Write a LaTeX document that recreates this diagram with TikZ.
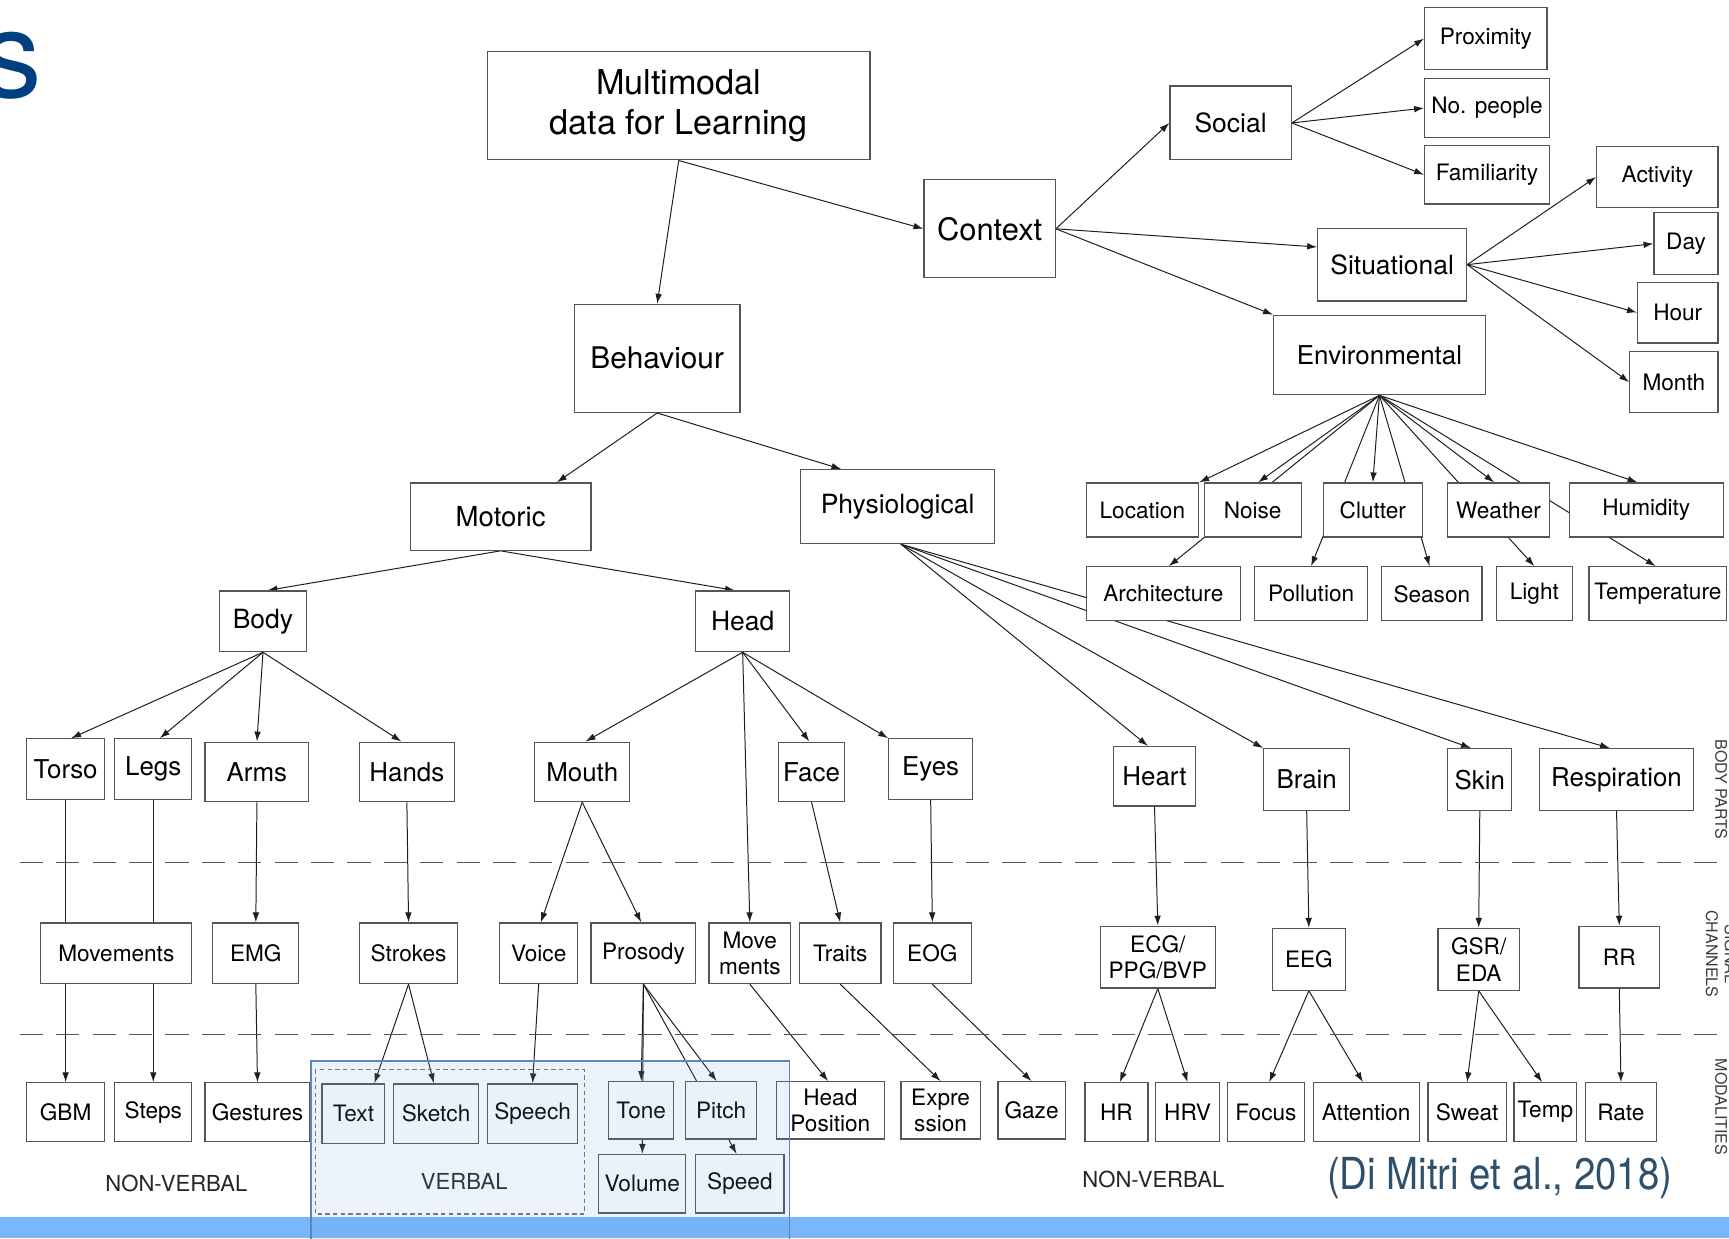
\documentclass[tikz,border=0pt]{standalone}
\usepackage{fontspec}
\setmainfont{TeX Gyre Heros}
\newfontfamily\citefont[FakeStretch=0.87]{TeX Gyre Heros}
\usetikzlibrary{arrows.meta}
\pgfdeclarelayer{edges}
\pgfdeclarelayer{over}
\pgfsetlayers{edges,main,over}
\definecolor{boxline}{RGB}{85,85,85}
\definecolor{edgecol}{RGB}{30,30,30}
\definecolor{titleblue}{RGB}{0,64,128}
\definecolor{citecol}{RGB}{47,80,107}
\definecolor{barblue}{RGB}{121,183,250}
\definecolor{panelfill}{RGB}{110,160,230}
\definecolor{panelline}{RGB}{90,135,195}
\definecolor{sidegrey}{RGB}{60,60,60}

\tikzset{
  bx/.style={draw=boxline, fill=white, line width=1.1pt, inner sep=0pt, align=center, text=black},
  f31/.style={font=\fontsize{31}{37}\selectfont},
  f28/.style={font=\fontsize{28}{33}\selectfont},
  f27/.style={font=\fontsize{27}{32}\selectfont},
  f25/.style={font=\fontsize{25}{30}\selectfont},
  f24/.style={font=\fontsize{24}{28}\selectfont},
  f23/.style={font=\fontsize{23.5}{28}\selectfont},
  f20/.style={font=\fontsize{20.5}{24}\selectfont},
  arr/.style={draw=edgecol, line width=0.9pt, -{Latex[length=9pt,width=6pt]}},
  sep/.style={draw=boxline, line width=1.4pt, dash pattern=on 21pt off 12pt},
  lbl/.style={font=\fontsize{20}{24}\selectfont, text=black!85, inner sep=0pt},
  side/.style={font=\fontsize{14.5}{17}\selectfont, text=sidegrey, inner sep=0pt, align=center, rotate=-90},
}

% box from its two corners: name, x1, y1, x2, y2, font style, text
\newcommand\mkbox[7]{%
  \node[bx,#6,minimum width={(#4)-(#2)},minimum height={(#5)-(#3)}] (#1)
    at ({((#2)+(#4))/2},{((#3)+(#5))/2}) {#7};}

\begin{document}
\begin{tikzpicture}[x=1pt,y=-1pt]
\useasboundingbox (0,0) rectangle (1568,1123);

% slide title remnant
\node[anchor=base east, inner sep=0pt, text=titleblue,
      font=\fontsize{110}{110}\selectfont] (ttl) at (38,88) {s};

% ---- top levels
\mkbox{mm}{442}{47}{789}{145}{f31}{Multimodal\\data for Learning}
\mkbox{ctx}{838}{163}{957}{252}{f28}{Context}
\mkbox{soc}{1061}{78}{1171}{145}{f24}{Social}
\mkbox{prox}{1292}{7}{1403}{63}{f20}{Proximity}
\mkbox{nop}{1292}{71}{1405}{125}{f20}{No. people}
\mkbox{fam}{1292}{132}{1405}{185}{f20}{Familiarity}
\mkbox{sit}{1195}{207}{1330}{273}{f24}{Situational}
\mkbox{act}{1448}{133}{1558}{188}{f20}{Activity}
\mkbox{day}{1500}{193}{1558}{249}{f20}{Day}
\mkbox{hour}{1485}{256}{1558}{311}{f20}{Hour}
\mkbox{month}{1478}{319}{1558}{374}{f20}{Month}
\mkbox{env}{1155}{286}{1347}{358}{f23}{Environmental}
\mkbox{beh}{521}{276}{671}{374}{f27}{Behaviour}
\mkbox{mot}{372}{438}{536}{499}{f25}{Motoric}
\mkbox{phys}{726}{426}{902}{493}{f24}{Physiological}

% ---- environmental factors
\mkbox{loc}{985}{438}{1087}{487}{f20}{Location}
\mkbox{noise}{1092}{438}{1180}{487}{f20}{Noise}
\mkbox{clut}{1200}{438}{1290}{487}{f20}{Clutter}
\mkbox{weat}{1313}{438}{1405}{487}{f20}{Weather}
\mkbox{humid}{1423}{438}{1563}{487}{f20}{Humidity}
\mkbox{arch}{985}{514}{1125}{563}{f20}{Architecture}
\mkbox{poll}{1138}{514}{1240}{563}{f20}{Pollution}
\mkbox{seas}{1253}{514}{1344}{563}{f20}{Season}
\mkbox{light}{1357}{514}{1426}{563}{f20}{Light}
\mkbox{temp}{1441}{514}{1566}{563}{f20}{Temperature}

% ---- body parts
\mkbox{body}{199}{536}{278}{591}{f24}{Body}
\mkbox{head}{631}{536}{716}{591}{f24}{Head}
\mkbox{torso}{24}{670}{95}{725}{f23}{Torso}
\mkbox{legs}{104}{670}{174}{725}{f23}{Legs}
\mkbox{arms}{186}{673}{280}{727}{f23}{Arms}
\mkbox{hands}{326}{673}{412}{727}{f23}{Hands}
\mkbox{mouth}{485}{673}{571}{727}{f23}{Mouth}
\mkbox{face}{706}{673}{766}{727}{f23}{Face}
\mkbox{eyes}{806}{670}{882}{725}{f23}{Eyes}
\mkbox{heart}{1010}{677}{1084}{731}{f23}{Heart}
\mkbox{brain}{1146}{679}{1224}{735}{f23}{Brain}
\mkbox{skin}{1313}{679}{1371}{735}{f23}{Skin}
\mkbox{resp}{1396}{679}{1536}{735}{f23}{Respiration}

% ---- signal channels
\mkbox{movs}{37}{837}{174}{892}{f20}{Movements}
\mkbox{emg}{193}{837}{271}{892}{f20}{EMG}
\mkbox{strk}{326}{837}{415}{892}{f20}{Strokes}
\mkbox{voice}{453}{837}{524}{892}{f20}{Voice}
\mkbox{pros}{536}{837}{631}{892}{f20}{Prosody}
\mkbox{movm}{643}{837}{717}{892}{f20}{Move\\ments}
\mkbox{trait}{725}{837}{799}{892}{f20}{Traits}
\mkbox{eog}{810}{837}{881}{892}{f20}{EOG}
\mkbox{ecg}{998}{840}{1102}{896}{f20}{ECG/\\PPG/BVP}
\mkbox{eeg}{1154}{842}{1220}{898}{f20}{EEG}
\mkbox{gsr}{1304}{842}{1378}{898}{f20}{GSR/\\EDA}
\mkbox{rr}{1432}{840}{1505}{896}{f20}{RR}

% ---- modalities
\mkbox{gbm}{24}{982}{95}{1035}{f20}{GBM}
\mkbox{steps}{104}{982}{174}{1035}{f20}{Steps}
\mkbox{gest}{186}{982}{281}{1035}{f20}{Gestures}
\mkbox{text}{292}{983}{349}{1037}{f20}{Text}
\mkbox{sketch}{357}{983}{434}{1037}{f20}{Sketch}
\mkbox{speech}{442}{983}{524}{1037}{f20}{Speech}
\mkbox{tone}{552}{981}{611}{1033}{f20}{Tone}
\mkbox{pitch}{622}{981}{686}{1033}{f20}{Pitch}
\mkbox{vol}{543}{1047}{622}{1100}{f20}{Volume}
\mkbox{speed}{631}{1047}{711}{1100}{f20}{Speed}
\mkbox{hpos}{704}{981}{802}{1033}{f20}{Head\\Position}
\mkbox{expr}{817}{981}{889}{1033}{f20}{Expre\\ssion}
\mkbox{gaze}{905}{981}{966}{1033}{f20}{Gaze}
\mkbox{hr}{984}{982}{1041}{1035}{f20}{HR}
\mkbox{hrv}{1048}{982}{1106}{1035}{f20}{HRV}
\mkbox{focus}{1113}{982}{1183}{1035}{f20}{Focus}
\mkbox{att}{1191}{982}{1287}{1035}{f20}{Attention}
\mkbox{sweat}{1295}{982}{1366}{1035}{f20}{Sweat}
\mkbox{tmpm}{1373}{982}{1430}{1035}{f20}{Temp}
\mkbox{rate}{1438}{982}{1502}{1035}{f20}{Rate}

% ---- group labels
\node[lbl] (nvl) at (160,1073) {NON-VERBAL};
\node[lbl] (vbl) at (421,1071) {VERBAL};
\node[lbl] (nvr) at (1046,1070) {NON-VERBAL};
\node[inner sep=0pt, text=citecol, font=\citefont\fontsize{40}{46}\selectfont] (cite) at (1360,1068) {(Di Mitri et al., 2018)};

% ---- layer captions on the right edge
\node[side] (bparts) at (1561,716) {BODY PARTS};
\node[side] (schan) at (1561,865) {SIGNAL\\CHANNELS};
\node[side] (modal) at (1561,1004) {MODALITIES};

% ---- layer separators
\draw[sep] (18,782) -- (1568,782);
\draw[sep] (18,938) -- (1568,938);

% ---- footer bar
\fill[barblue] (0,1104) rectangle (1568,1123);

% ---- connectors (behind the boxes)
\begin{pgfonlayer}{edges}
\draw[arr] (mm.south) -- (beh.north);
\draw[arr] (mm.south) -- (ctx.west);
\draw[arr] (ctx.east) -- (soc.west);
\draw[arr] (ctx.east) -- ([yshift=16pt]sit.west);
\draw[arr] (ctx.east) -- (env.north west);
\draw[arr] (soc.east) -- (prox.west);
\draw[arr] (soc.east) -- (nop.west);
\draw[arr] (soc.east) -- (fam.west);
\draw[arr] (sit.east) -- (act.west);
\draw[arr] (sit.east) -- (day.west);
\draw[arr] (sit.east) -- (hour.west);
\draw[arr] (sit.east) -- (month.west);
\draw[arr] (env.south) -- (loc.north east);
\draw[arr] (env.south) -- ([xshift=5pt]noise.north);
\draw[arr] (env.south) -- ([xshift=5pt]arch.north);
\draw[arr] (env.south) -- (clut.north);
\draw[arr] (env.south) -- (poll.north);
\draw[arr] (env.south) -- ([xshift=-2pt]seas.north);
\draw[arr] (env.south) -- ([xshift=-4pt]weat.north);
\draw[arr] (env.south) -- (light.north);
\draw[arr] (env.south) -- ([xshift=-8pt]humid.north);
\draw[arr] (env.south) -- ([xshift=-2pt]temp.north);
\draw[arr] (beh.south) -- ([xshift=51pt]mot.north);
\draw[arr] (beh.south) -- ([xshift=-51pt]phys.north);
\draw[arr] (mot.south) -- ([xshift=4pt]body.north);
\draw[arr] (mot.south) -- ([xshift=-7pt]head.north);
\draw[arr] (body.south) -- ([xshift=5pt]torso.north);
\draw[arr] (body.south) -- ([xshift=6pt]legs.north);
\draw[arr] (body.south) -- (arms.north);
\draw[arr] (body.south) -- ([xshift=-5pt]hands.north);
\draw[arr] (head.south) -- ([xshift=3pt]mouth.north);
\draw[arr] (head.south) -- (movm.north);
\draw[arr] (head.south) -- ([xshift=-2pt]face.north);
\draw[arr] (head.south) -- (eyes.north west);
\draw[arr] ([xshift=3pt]phys.south) -- ([xshift=-6pt]heart.north);
\draw[arr] ([xshift=3pt]phys.south) -- (brain.north west);
\draw[arr] ([xshift=3pt]phys.south) -- ([xshift=-8pt]skin.north);
\draw[arr] ([xshift=3pt]phys.south) -- ([xshift=-6pt]resp.north);
\draw[arr] (torso.south) -- (gbm.north);
\draw[arr] (legs.south) -- (steps.north);
\draw[arr] (arms.south) -- (emg.north);
\draw[arr] (emg.south) -- (gest.north);
\draw[arr] (hands.south) -- (strk.north);
\draw[arr] (strk.south) -- ([xshift=19pt]text.north);
\draw[arr] (strk.south) -- ([xshift=-2pt]sketch.north);
\draw[arr] (mouth.south) -- ([xshift=2pt]voice.north);
\draw[arr] (mouth.south) -- ([xshift=-2pt]pros.north);
\draw[arr] (voice.south) -- (speech.north);
\draw[arr] (pros.south) -- (tone.north);
\draw[arr] (pros.south) -- (vol.north);
\draw[arr] (pros.south) -- ([xshift=-4pt]pitch.north);
\draw[arr] (pros.south) -- ([xshift=-3pt]speed.north);
\draw[arr] (movm.south) -- ([xshift=-2pt]hpos.north);
\draw[arr] (face.south) -- (trait.north);
\draw[arr] (trait.south) -- (expr.north);
\draw[arr] (eyes.south) -- (eog.north);
\draw[arr] (eog.south) -- (gaze.north);
\draw[arr] (heart.south) -- (ecg.north);
\draw[arr] (ecg.south) -- ([xshift=3pt]hr.north);
\draw[arr] (ecg.south) -- (hrv.north);
\draw[arr] (brain.south) -- (eeg.north);
\draw[arr] (eeg.south) -- ([xshift=3pt]focus.north);
\draw[arr] (eeg.south) -- ([xshift=-3pt]att.north);
\draw[arr] (skin.south) -- (gsr.north);
\draw[arr] (gsr.south) -- (sweat.north);
\draw[arr] (gsr.south) -- ([xshift=-3pt]tmpm.north);
\draw[arr] (resp.south) -- (rr.north);
\draw[arr] (rr.south) -- (rate.north);
\end{pgfonlayer}

% ---- highlighted verbal / prosody panel
\begin{pgfonlayer}{over}
\draw[draw=panelline, line width=1.6pt, fill=panelfill, fill opacity=0.14] (282,962) rectangle (716,1135);
\draw[draw=boxline!80, line width=1.1pt, dash pattern=on 4pt off 3pt] (286,970) rectangle (530,1101);
\end{pgfonlayer}
\end{tikzpicture}
\end{document}
